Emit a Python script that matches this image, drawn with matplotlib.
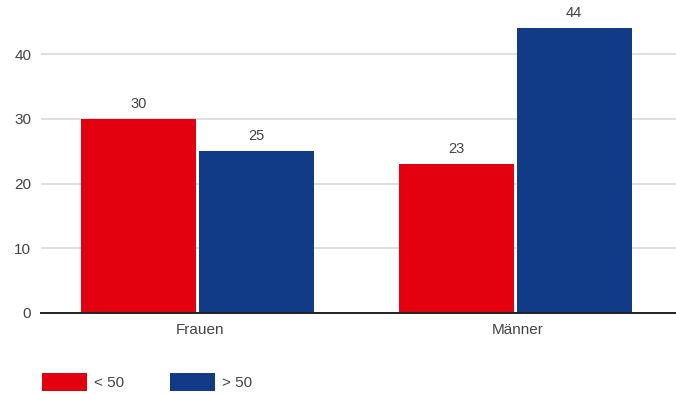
import matplotlib.pyplot as plt
import numpy as np

categories = ["Frauen", "Männer"]
series_names = ["< 50", "> 50"]
under_50 = [30, 23]
over_50 = [25, 44]

RED = "#e3000f"
BLUE = "#113a87"
TEXT = "#444444"

plt.rcParams["font.family"] = ["Liberation Sans", "DejaVu Sans"]

fig = plt.figure(figsize=(6.76, 3.94), dpi=100)
ax = fig.add_axes([41 / 676, 81 / 394, 635 / 676, 313 / 394])

x = np.arange(len(categories))
width = 0.362
gap = 0.0095
offset = width / 2 + gap / 2
shift = -0.0065

bars1 = ax.bar(x + shift - offset, under_50, width, color=RED, label=series_names[0], zorder=2)
bars2 = ax.bar(x + shift + offset, over_50, width, color=BLUE, label=series_names[1], zorder=2)

for bars, vals in ((bars1, under_50), (bars2, over_50)):
    for b, v in zip(bars, vals):
        ax.annotate(str(v), (b.get_x() + b.get_width() / 2, v),
                    xytext=(0, 5.5), textcoords="offset points",
                    ha="center", va="bottom", fontsize=10.5, color=TEXT)

ax.set_xlim(-0.5, 1.5)
ax.set_ylim(0, 313 / 6.475)
ax.set_yticks([0, 10, 20, 30, 40])
ax.set_xticks(x)
ax.set_xticklabels(categories)
ax.tick_params(axis="both", length=0, labelsize=11, labelcolor=TEXT)
ax.tick_params(axis="y", pad=7)
ax.tick_params(axis="x", pad=7.5)

ax.yaxis.grid(True, color="#dddddd", linewidth=1.3, zorder=0)
ax.set_axisbelow(True)
for side in ("top", "right", "left"):
    ax.spines[side].set_visible(False)
ax.spines["bottom"].set_color("#222222")
ax.spines["bottom"].set_linewidth(1.4)
ax.spines["bottom"].set_zorder(3)

fig.legend(loc="lower left", bbox_to_anchor=(28 / 676, -11 / 394), ncol=2,
           frameon=False, fontsize=11, handlelength=2.95, handleheight=1.44,
           handletextpad=0.45, columnspacing=3.0, labelcolor=TEXT)

fig.savefig("out.png", dpi=100)
